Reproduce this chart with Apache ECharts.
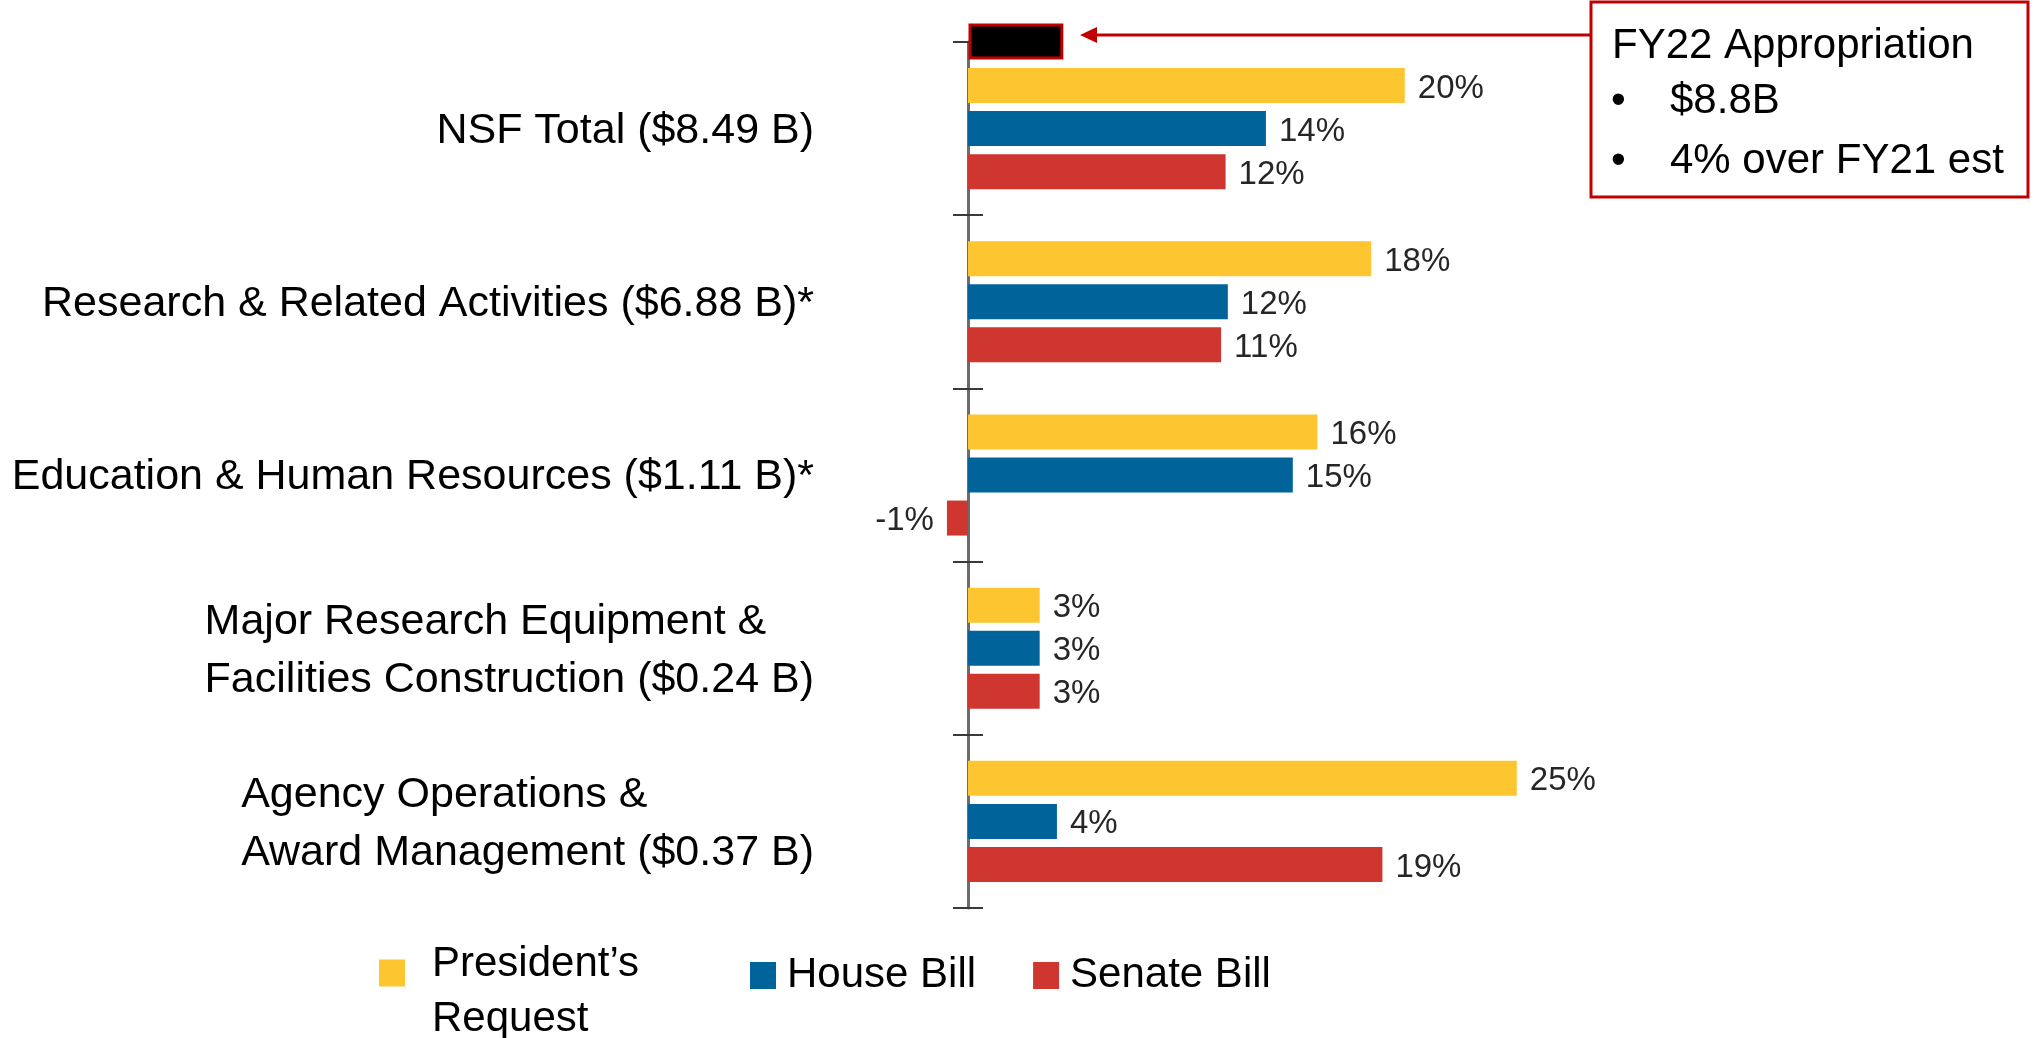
<!DOCTYPE html>
<html lang="en">
<head>
  <meta charset="UTF-8" />
  <title>NSF FY22 budget</title>
  <script src="https://cdn.jsdelivr.net/npm/echarts@6.0.0/dist/echarts.min.js"></script>
  <style>
    html, body { margin: 0; padding: 0; background: #fff; }
    #chart { width: 2037px; height: 1038px; }
  </style>
</head>
<body>
  <div id="chart"></div>
  <script>
    // categories, top to bottom
    var categories = [
      "NSF Total ($8.49 B)",
      "Research & Related Activities ($6.88 B)*",
      "Education & Human Resources ($1.11 B)*",
      "Major Research Equipment &\nFacilities Construction ($0.24 B)",
      "Agency Operations &\nAward Management ($0.37 B)"
    ];
    var seriesNames = ["President’s Request", "House Bill", "Senate Bill"];

    // % change vs FY21
    var presidentValues = [19.5, 18.0, 15.6, 3.2, 24.5];
    var houseValues = [13.3, 11.6, 14.5, 3.2, 3.97];
    var senateValues = [11.5, 11.3, -0.94, 3.2, 18.5];

    // labels as printed on the chart
    var presidentLabels = ["20%", "18%", "16%", "3%", "25%"];
    var houseLabels = ["14%", "12%", "15%", "3%", "4%"];
    var senateLabels = ["12%", "11%", "-1%", "3%", "19%"];

    // FY22 appropriation marker (black bar above NSF total)
    var appropriationValue = [4.1];
    var calloutLines = ["FY22 Appropriation", "$8.8B", "4% over FY21 est"];

    var colors = ["#FDC52F", "#00649A", "#CF3630"];
    var FONT = '"Liberation Sans", Arial, sans-serif';

    function barData(values) {
      return values.map(function (v) {
        return v < 0 ? { value: v, label: { position: "left" } } : v;
      });
    }

    function barSeries(idx, values, labels) {
      return {
        name: seriesNames[idx],
        type: "bar",
        data: barData(values),
        barWidth: 35,
        barGap: "23%",
        clip: false,
        itemStyle: { color: colors[idx] },
        label: {
          show: true,
          position: "right",
          distance: 13,
          offset: [0, 3],
          fontSize: 33,
          fontFamily: FONT,
          color: "#262626",
          formatter: function (p) { return labels[p.dataIndex]; }
        }
      };
    }

    var tickStyle = { color: "#3a3a3a", width: 2 };

    var option = {
      animation: false,
      backgroundColor: "#ffffff",
      grid: { left: 968, right: 16.2, top: 42, bottom: 130, containLabel: false, outerBoundsMode: "none" },
      xAxis: { type: "value", min: 0, max: 47, show: false },
      yAxis: [
        {
          type: "category",
          data: categories,
          inverse: true,
          axisLine: { show: true, lineStyle: { color: "#6b6b6b", width: 3 } },
          axisTick: { show: true, length: 15, lineStyle: tickStyle },
          splitLine: { show: false },
          axisLabel: {
            margin: 154,
            formatter: function (v) {
              return v.split("\n").map(function (s) { return "{a|" + s + "}"; }).join("\n") + "\n{s| }";
            },
            rich: {
              a: { align: "left", verticalAlign: "bottom", fontSize: 43, lineHeight: 58, fontFamily: FONT, color: "#000" },
              s: { fontSize: 1, lineHeight: 10 }
            }
          }
        },
        {
          type: "category",
          data: categories,
          inverse: true,
          position: "left",
          axisLine: { show: false },
          axisTick: { show: true, inside: true, length: 15, lineStyle: tickStyle },
          axisLabel: { show: false },
          splitLine: { show: false }
        }
      ],
      legend: [
        {
          data: [seriesNames[0]],
          left: 379,
          top: 917.5,
          padding: 0,
          icon: "rect",
          itemWidth: 26,
          itemHeight: 27,
          selectedMode: false,
          formatter: function (n) {
            return "{s| }\n" + n.split("’s ").map(function (s, i) {
              return "{t|" + s + (i === 0 ? "’s" : "") + "}";
            }).join("\n");
          },
          textStyle: {
            padding: [0, 0, 0, 22],
            rich: {
              s: { fontSize: 1, lineHeight: 38 },
              t: { fontSize: 42, fontFamily: FONT, color: "#000", lineHeight: 55 }
            }
          }
        },
        {
          data: [seriesNames[1], seriesNames[2]],
          left: 750,
          top: 949.5,
          padding: 0,
          icon: "rect",
          itemWidth: 26,
          itemHeight: 27,
          itemGap: 57,
          selectedMode: false,
          textStyle: { fontSize: 42, fontFamily: FONT, color: "#000", lineHeight: 52, padding: [0, 0, 0, 6] }
        }
      ],
      series: [
        barSeries(0, presidentValues, presidentLabels),
        barSeries(1, houseValues, houseLabels),
        barSeries(2, senateValues, senateLabels),
        {
          name: "FY22 Appropriation",
          type: "custom",
          z: 4,
          clip: false,
          encode: { x: 0, y: 1 },
          data: appropriationValue.map(function (v) { return [v, 0]; }),
          renderItem: function (params, api) {
            var start = api.coord([0, api.value(1)]);
            var end = api.coord([api.value(0), api.value(1)]);
            var band = api.size([0, 1])[1];
            var top = start[1] - band / 2 - 17;
            return {
              type: "rect",
              shape: { x: start[0] + 2, y: top, width: end[0] - start[0], height: 33 },
              style: { fill: "#000", stroke: "#C00000", lineWidth: 3 }
            };
          }
        }
      ],
      graphic: [
        {
          type: "line",
          shape: { x1: 1094, y1: 35, x2: 1591, y2: 35 },
          style: { stroke: "#C00000", lineWidth: 3 }
        },
        {
          type: "polygon",
          shape: { points: [[1080, 35], [1097, 27], [1097, 43]] },
          style: { fill: "#C00000" }
        },
        {
          type: "rect",
          shape: { x: 1591, y: 2, width: 437, height: 195 },
          style: { fill: "#fff", stroke: "#C00000", lineWidth: 3 }
        },
        {
          type: "text", x: 1612, y: 46,
          style: { text: calloutLines[0], font: "42px " + FONT, fill: "#000", verticalAlign: "middle" }
        },
        {
          type: "text", x: 1611, y: 101,
          style: { text: "•", font: "42px " + FONT, fill: "#000", verticalAlign: "middle" }
        },
        {
          type: "text", x: 1670, y: 101,
          style: { text: calloutLines[1], font: "42px " + FONT, fill: "#000", verticalAlign: "middle" }
        },
        {
          type: "text", x: 1611, y: 161,
          style: { text: "•", font: "42px " + FONT, fill: "#000", verticalAlign: "middle" }
        },
        {
          type: "text", x: 1670, y: 161,
          style: { text: calloutLines[2], font: "42px " + FONT, fill: "#000", verticalAlign: "middle" }
        }
      ]
    };

    var chart = echarts.init(document.getElementById("chart"));
    chart.setOption(option);
  </script>
</body>
</html>
